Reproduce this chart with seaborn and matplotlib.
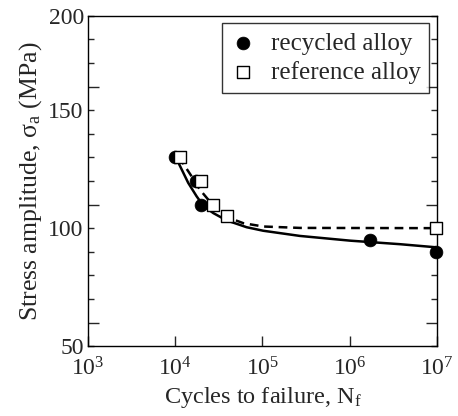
import matplotlib
matplotlib.use("Agg")
import matplotlib.pyplot as plt
from matplotlib.ticker import FixedLocator, NullLocator, LogLocator, LogFormatterSciNotation
import numpy as np
import pandas as pd
import seaborn as sns

# measured points (cycles, MPa)
recycled_n = [1.0e4, 1.73e4, 2.0e4, 1.7e6, 9.7e6]
recycled_s = [130, 120, 110, 95, 90]
reference_n = [1.15e4, 2.0e4, 2.73e4, 3.9e4, 9.7e6]
reference_s = [130, 120, 110, 105, 100]

# fitted curves
fit_rec_n = [1.01e4, 1.19e4, 1.41e4, 1.76e4, 2.10e4, 2.73e4, 3.88e4, 6.58e4,
             1.02e5, 2.69e5, 1.01e6, 3.77e6, 9.66e6]
fit_rec_s = [130.2, 124.8, 119.2, 113.5, 109.5, 106.4, 103.3, 100.4,
             98.9, 96.7, 94.7, 93.2, 91.9]
fit_ref_n = [1.10e4, 1.29e4, 1.54e4, 1.92e4, 2.39e4, 3.12e4, 4.25e4, 6.04e4,
             1.02e5, 2.69e5, 9.66e6]
fit_ref_s = [130.2, 126.3, 122.0, 116.3, 112.1, 107.8, 104.2, 102.1,
             100.7, 100.1, 100.0]

# y tick labels as printed on the original
ylab_pos = [50, 100, 150, 190]
ylab_txt = ["50", "100", "150", "200"]

sns.set_style("ticks")
plt.rcParams['font.family'] = ['Liberation Serif', 'DejaVu Serif']
plt.rcParams['mathtext.fontset'] = 'custom'
plt.rcParams['mathtext.rm'] = 'Liberation Serif'
plt.rcParams['mathtext.it'] = 'Liberation Serif:italic'
plt.rcParams['mathtext.bf'] = 'Liberation Serif:bold'

fig = plt.figure(figsize=(4.58, 4.16), dpi=100)
ax = fig.add_axes([0.192, 0.168, 0.762, 0.794])

rec_fit = pd.DataFrame({"n": fit_rec_n, "s": fit_rec_s})
ref_fit = pd.DataFrame({"n": fit_ref_n, "s": fit_ref_s})
sns.lineplot(data=rec_fit, x="n", y="s", color="black", lw=1.8, ax=ax,
             estimator=None, sort=False)
sns.lineplot(data=ref_fit, x="n", y="s", color="black", lw=1.8, ax=ax,
             estimator=None, sort=False, dashes=False, linestyle=(0, (3.5, 2.3)))

sns.scatterplot(x=recycled_n, y=recycled_s, marker="o", color="black", s=85,
                edgecolor="black", linewidth=0.5, ax=ax, label="recycled alloy",
                zorder=3, clip_on=False)
sns.scatterplot(x=reference_n, y=reference_s, marker="s", facecolor="white",
                edgecolor="black", s=80, linewidth=1.0, ax=ax,
                label="reference alloy", zorder=3, clip_on=False)

ax.set_xscale("log")
ax.set_xlim(1e3, 1e7)
ax.set_ylim(50, 190)
ax.xaxis.set_major_locator(LogLocator(base=10, numticks=10))
ax.xaxis.set_major_formatter(LogFormatterSciNotation())
ax.xaxis.set_minor_locator(NullLocator())

ax.yaxis.set_major_locator(FixedLocator([60, 110, 160]))
ax.set_yticklabels([])
ax.set_yticks(list(range(50, 191, 10)), minor=True)
ax.set_yticklabels([ylab_txt[ylab_pos.index(v)] if v in ylab_pos else ""
                    for v in range(50, 191, 10)], minor=True)

ax.tick_params(axis="x", which="major", direction="in", length=7, width=1,
               labelsize=17, pad=8, top=False)
ax.tick_params(axis="y", which="major", direction="in", length=8, width=1,
               right=True, labelleft=False)
ax.tick_params(axis="y", which="minor", direction="in", length=4.3, width=1,
               right=True, labelsize=17, pad=3)
for sp in ax.spines.values():
    sp.set_linewidth(1.0)
    sp.set_color("black")

ax.set_xlabel("Cycles to failure, N$_\\mathrm{f}$", fontsize=17.5, labelpad=3)
ax.set_ylabel("Stress amplitude, σ$_\\mathrm{a}$ (MPa)", fontsize=18.5, labelpad=3)

leg = ax.legend(loc="upper right", fontsize=18, frameon=True, fancybox=False,
                edgecolor="black", borderaxespad=0.3, handletextpad=0.6,
                handlelength=1.0, borderpad=0.35, labelspacing=0.25)
leg.get_frame().set_linewidth(1.0)

fig.savefig("out.png", dpi=100)
